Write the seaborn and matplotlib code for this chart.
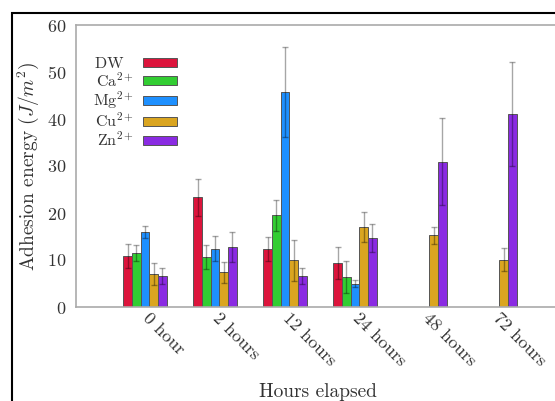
"""Adhesion energy of bacteria over time in different ionic solutions."""

import matplotlib
matplotlib.use("Agg")
import matplotlib.pyplot as plt
import numpy as np
import pandas as pd
import seaborn as sns
from matplotlib.patches import Rectangle

hours = ["0 hour", "2 hours", "12 hours", "24 hours", "48 hours", "72 hours"]
solutions = ["DW", "Ca$^{2+}$", "Mg$^{2+}$", "Cu$^{2+}$", "Zn$^{2+}$"]
colors = ["#dc143c", "#32cd32", "#1e90ff", "#daa520", "#8a2be2"]

dw = [10.9, 23.3, 12.3, 9.4, np.nan, np.nan]
dw_err = [2.5, 4.0, 2.5, 3.4, np.nan, np.nan]
ca = [11.5, 10.6, 19.5, 6.4, np.nan, np.nan]
ca_err = [1.7, 2.6, 3.3, 3.4, np.nan, np.nan]
mg = [15.9, 12.4, 45.7, 5.0, np.nan, np.nan]
mg_err = [1.3, 2.7, 9.6, 0.7, np.nan, np.nan]
cu = [7.0, 7.4, 9.9, 17.1, 15.3, 10.1]
cu_err = [2.3, 2.2, 4.3, 3.2, 1.8, 2.4]
zn = [6.6, 12.8, 6.5, 14.6, 30.9, 41.1]
zn_err = [1.6, 3.2, 1.7, 3.0, 9.3, 11.0]

means = [dw, ca, mg, cu, zn]
errs = [dw_err, ca_err, mg_err, cu_err, zn_err]

rows = []
for sol, m, e in zip(solutions, means, errs):
    for h, v, s in zip(hours, m, e):
        rows.append({"hours": h, "solution": sol, "energy": v, "err": s})
df = pd.DataFrame(rows).dropna()

sns.set_theme(style="white")
plt.rcParams["font.family"] = ["cmr10"]
plt.rcParams["mathtext.fontset"] = "cm"
plt.rcParams["axes.formatter.use_mathtext"] = True

text_color = "#333333"
fig = plt.figure(figsize=(5.55, 4.01), dpi=100)
ax = fig.add_axes([76 / 555, 94 / 401, 484 / 555, 282 / 401])

sns.barplot(
    data=df,
    x="hours",
    y="energy",
    hue="solution",
    order=hours,
    hue_order=solutions,
    palette=colors,
    width=0.62,
    gap=0,
    errorbar=None,
    saturation=1,
    edgecolor="#555555",
    linewidth=0.7,
    ax=ax,
)

# error bars on top of the drawn bars
for sol, container in zip(solutions, ax.containers):
    sub = df[df["solution"] == sol].set_index("hours").reindex(hours).dropna()
    for bar, (_, row) in zip(container, sub.iterrows()):
        xc = bar.get_x() + bar.get_width() / 2
        ax.errorbar(xc, row["energy"], yerr=row["err"], color="black", alpha=0.35,
                    lw=1.0, capsize=2.2, capthick=1.0)

ax.set_xlim(-0.986, 5.93)
ax.set_ylim(0, 60)
ax.set_yticks(range(0, 61, 10))
ax.tick_params(axis="y", direction="in", length=4, color="#999999", labelsize=13,
               labelcolor=text_color, pad=7)
ax.tick_params(axis="x", length=0, labelsize=13, labelcolor=text_color, pad=6)
for lab in ax.get_xticklabels():
    lab.set_rotation(-45)
    lab.set_ha("left")
    lab.set_va("center")
    lab.set_rotation_mode("anchor")

for side in ["left", "bottom", "top", "right"]:
    ax.spines[side].set_color("#aaaaaa")
    ax.spines[side].set_linewidth(1.2)

ax.set_xlabel("Hours elapsed", fontsize=14, color=text_color, va="center")
ax.xaxis.set_label_coords(0.5, -0.301)
ax.set_ylabel("Adhesion energy $(J/m^2)$", fontsize=14, color=text_color, labelpad=4.5)

handles, labels = ax.get_legend_handles_labels()
labels = [lab + "  " if lab == "DW" else lab for lab in labels]
ax.legend(handles, labels, loc="upper left", bbox_to_anchor=(0.005, 0.937),
          frameon=False, markerfirst=False, fontsize=11.5, handlelength=2.1,
          handleheight=0.5, labelspacing=0.02, handletextpad=0.6,
          labelcolor=text_color)

fig.patches.append(Rectangle((12 / 555, -0.1), 1.2, (401 - 13) / 401 + 0.1,
                             transform=fig.transFigure, fill=False,
                             edgecolor="black", linewidth=1.5))

fig.savefig("out.png", dpi=100)
